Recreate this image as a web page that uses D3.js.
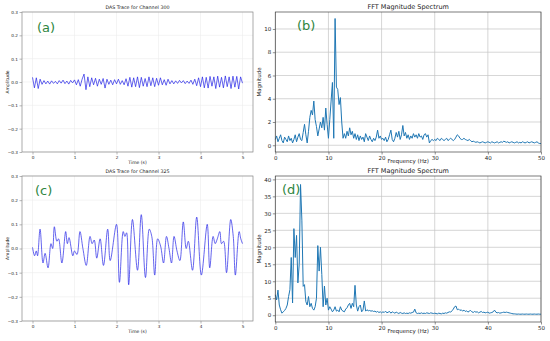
<!DOCTYPE html>
<html>
<head>
<meta charset="utf-8">
<script src="https://cdn.jsdelivr.net/npm/d3@7"></script>
<style>
body{margin:0;background:#fff}
svg{display:block;font-family:"DejaVu Sans",sans-serif}
</style>
</head>
<body>
<div class="chart"></div>
<script>
// time traces, sampled every 5/110 s (channel 300)
const traceStep300=5/110
const trace300=[
0.02,-0.025,0.018,-0.028,0.012,-0.01,0.006,-0.008,0.004,-0.009,
0.005,-0.006,0.003,-0.008,0.006,-0.005,0.008,-0.007,0.004,-0.009,
0.007,-0.004,0.009,-0.012,0.01,-0.018,0.012,0.034,-0.033,0.022,
-0.02,0.018,-0.012,0.016,-0.018,0.012,-0.01,0.015,-0.026,0.012,
-0.01,0.008,-0.012,0.01,-0.008,0.012,-0.01,0.006,-0.012,0.014,
-0.018,0.02,-0.022,0.018,-0.02,0.022,-0.024,0.02,-0.018,0.015,
-0.02,0.022,-0.016,0.018,-0.02,0.016,-0.014,0.018,-0.012,0.01,
-0.014,0.012,-0.008,0.006,-0.008,0.005,-0.006,0.007,-0.004,0.006,
-0.007,0.004,-0.006,0.008,-0.01,0.012,-0.016,0.018,-0.02,0.022,
-0.025,0.02,-0.026,0.024,-0.018,0.022,-0.028,0.025,-0.022,0.02,
-0.025,0.026,-0.02,0.022,-0.028,0.025,-0.022,0.024,-0.03,0.022,
-0.005]

// channel 325 trace, turning points (time s, amplitude)
const time325=[0,0.05,0.09,0.12,0.18,0.25,0.30,0.37,0.44,0.48,0.52,0.58,0.62,0.70,0.79,0.83,0.87,0.96,1.00,1.06,
1.13,1.20,1.28,1.37,1.42,1.47,1.53,1.61,1.69,1.79,1.85,2.00,2.07,2.16,2.20,2.24,2.29,2.38,2.50,2.59,
2.69,2.78,2.84,2.91,2.98,3.05,3.12,3.19,3.25,3.31,3.37,3.44,3.51,3.59,3.66,3.71,3.81,3.91,4.02,4.16,
4.22,4.30,4.35,4.40,4.46,4.50,4.55,4.62,4.72,4.78,4.83,4.92,4.96,5.0]
const trace325=[0.005,-0.03,-0.01,-0.03,0.08,-0.06,-0.02,-0.08,0.02,0.0,0.09,0.03,0.04,-0.06,0.07,0.02,0.045,-0.03,-0.01,-0.025,
0.07,0.0,-0.07,0.05,0.02,0.035,-0.04,0.04,-0.07,0.08,-0.05,0.10,-0.14,0.07,0.05,0.065,-0.15,0.12,-0.09,0.14,
-0.12,0.08,0.05,-0.11,0.04,0.01,-0.06,0.05,0.0,-0.06,0.05,-0.01,-0.05,0.11,0.0,0.03,-0.09,0.13,-0.11,0.10,
-0.08,0.05,0.02,0.04,0.07,0.02,0.03,-0.10,0.12,0.05,-0.11,0.07,0.04,0.02]

// FFT magnitudes, every 0.25 Hz from 0 to 50 Hz
const fftStep=0.25
const fft300=[
0.5,0.8,0.3,0.6,0.9,0.4,0.2,0.7,0.5,0.3,0.8,0.4,0.6,0.2,0.5,0.9,0.3,0.7,1.0,0.5,
0.4,1.1,1.8,0.9,0.2,1.2,2.4,3.0,2.6,3.8,2.2,1.6,0.8,1.4,2.0,1.5,2.4,1.3,3.2,1.8,
0.6,2.2,3.8,5.4,0.6,10.9,5.0,4.8,3.5,4.1,2.0,0.6,1.0,0.6,1.2,0.8,1.5,0.9,1.2,0.6,
1.0,0.5,0.9,0.4,0.8,0.5,0.7,0.3,1.0,0.7,0.4,0.8,0.5,0.3,0.6,0.4,0.7,1.3,0.6,0.8,
0.5,0.6,0.4,0.7,0.3,0.5,0.9,1.3,0.5,0.3,0.6,1.1,0.7,1.2,0.5,0.9,1.7,0.8,1.1,0.6,
0.9,0.5,0.8,0.6,1.0,0.7,0.9,0.6,1.0,0.7,0.8,0.5,0.9,1.0,0.7,0.9,0.2,0.4,0.5,0.4,
0.5,0.4,0.6,0.5,0.4,0.6,0.5,0.4,0.5,0.6,0.4,0.5,0.6,0.5,0.4,0.5,0.7,0.9,0.8,0.6,
0.5,0.5,0.6,0.5,0.45,0.4,0.5,0.4,0.3,0.35,0.3,0.25,0.3,0.25,0.2,0.25,0.3,0.25,0.2,0.25,
0.3,0.25,0.2,0.3,0.25,0.2,0.25,0.3,0.2,0.25,0.3,0.25,0.35,0.3,0.25,0.3,0.2,0.25,0.3,0.25,
0.2,0.25,0.3,0.2,0.25,0.2,0.3,0.25,0.2,0.25,0.3,0.2,0.25,0.3,0.25,0.2,0.25,0.3,0.2,0.15,
0.15]
const fft325=[
6.0,4.5,7.4,3.0,1.6,0.6,1.0,1.4,2.0,3.0,5.5,7.5,17.0,3.6,25.5,17.0,23.5,9.5,15.0,38.5,
28.0,8.5,9.0,4.0,3.0,5.5,2.5,3.5,2.0,1.5,2.5,5.0,20.5,13.0,20.0,12.0,2.5,8.6,3.0,5.0,
1.5,2.5,1.8,1.0,1.5,2.5,1.2,1.5,1.0,2.5,1.5,1.2,1.0,1.8,2.2,3.0,3.5,2.0,3.5,2.5,
8.8,3.0,1.2,2.5,3.0,1.0,1.5,4.2,1.2,1.6,1.3,1.4,1.2,1.3,1.1,1.2,0.9,1.1,0.8,1.0,
0.7,1.0,0.8,1.2,0.7,0.9,1.1,0.6,1.0,0.8,0.6,0.9,0.7,0.5,0.8,0.6,0.5,0.7,0.5,0.6,
0.5,0.7,0.6,0.8,0.9,1.8,0.7,0.5,0.6,0.5,0.7,0.5,0.6,0.5,0.7,0.6,0.5,0.7,0.6,0.5,
0.6,0.5,0.4,0.6,0.5,0.4,0.6,0.5,0.7,0.6,0.8,1.0,0.9,1.3,1.8,2.5,2.7,1.6,1.8,1.4,
1.6,1.2,1.5,1.1,1.3,0.9,1.2,1.4,1.0,0.8,1.1,0.9,1.0,0.7,0.9,1.1,0.8,0.9,0.7,0.8,
0.9,0.6,0.7,0.8,1.0,1.5,0.9,0.7,0.8,0.6,0.7,0.8,0.9,0.8,0.9,0.8,0.7,0.6,0.5,0.4,
0.4,0.35,0.3,0.35,0.3,0.3,0.35,0.3,0.3,0.35,0.3,0.3,0.35,0.3,0.3,0.35,0.3,0.3,0.35,0.3,
0.3]

const ampTicks=[-0.3,-0.2,-0.1,0,0.1,0.2,0.3]
const timeTicks=[0,1,2,3,4,5]
const freqTicks=[0,10,20,30,40,50]
const mag300Ticks=[0,2,4,6,8,10]
const mag325Ticks=[0,5,10,15,20,25,30,35,40]

const svg=d3.select('.chart').append('svg')
	.attr('width',550)
	.attr('height',341)

const fmtAmp=d=>d3.format('.1f')(d).replace('-','\u2212')

function panel(o){
	let g=svg.append('g')
	let x=d3.scaleLinear().domain(o.xDomain).range([o.left,o.right])
	let y=d3.scaleLinear().domain(o.yDomain).range([o.bottom,o.top])

	// grid
	g.selectAll('.vgrid').data(o.xTicks).enter().append('line')
		.attr('x1',d=>x(d)).attr('x2',d=>x(d))
		.attr('y1',o.top).attr('y2',o.bottom)
		.attr('stroke',o.gridColor).attr('stroke-width',o.gridWidth)
	g.selectAll('.hgrid').data(o.yTicks).enter().append('line')
		.attr('y1',d=>y(d)).attr('y2',d=>y(d))
		.attr('x1',o.left).attr('x2',o.right)
		.attr('stroke',o.gridColor).attr('stroke-width',o.gridWidth)

	g.append('path')
		.datum(o.data)
		.attr('fill','none')
		.attr('stroke',o.lineColor)
		.attr('stroke-width',o.lineWidth)
		.attr('d',d3.line().x(d=>x(d[0])).y(d=>y(d[1])).curve(o.curve||d3.curveLinear))

	let xAxis=d3.axisBottom(x).tickValues(o.xTicks).tickSize(2.5).tickPadding(1.5).tickFormat(o.xFormat)
	let yAxis=d3.axisLeft(y).tickValues(o.yTicks).tickSize(2.5).tickPadding(1.5).tickFormat(o.yFormat)
	let gx=g.append('g').attr('transform',`translate(0,${o.bottom})`).call(xAxis)
	let gy=g.append('g').attr('transform',`translate(${o.left},0)`).call(yAxis)
	;[gx,gy].forEach(a=>{
		a.select('.domain').remove()
		a.selectAll('line').attr('stroke',o.frameColor).attr('stroke-width',0.6)
		a.selectAll('text').attr('font-size',o.tickSize).attr('fill','#222').attr('font-family','"DejaVu Sans",sans-serif')
	})

	g.append('rect')
		.attr('x',o.left).attr('y',o.top)
		.attr('width',o.right-o.left).attr('height',o.bottom-o.top)
		.attr('fill','none').attr('stroke',o.frameColor).attr('stroke-width',0.7)

	g.append('text')
		.attr('x',(o.left+o.right)/2).attr('y',o.top-3)
		.attr('text-anchor','middle')
		.attr('font-size',o.titleSize).attr('fill','#222')
		.text(o.title)
	g.append('text')
		.attr('x',(o.left+o.right)/2).attr('y',o.bottom+o.xLabelGap)
		.attr('text-anchor','middle')
		.attr('font-size',o.labelSize).attr('fill','#222')
		.text(o.xLabel)
	g.append('text')
		.attr('transform',`translate(${o.left-o.yLabelGap},${(o.top+o.bottom)/2}) rotate(-90)`)
		.attr('text-anchor','middle')
		.attr('font-size',o.labelSize).attr('fill','#222')
		.text(o.yLabel)
	g.append('text')
		.attr('x',o.tagX).attr('y',o.tagY)
		.attr('font-size',13).attr('fill','#2e8540')
		.attr('font-family','"DejaVu Sans",sans-serif')
		.text(o.tag)
}

const left={xDomain:[-0.25,5.25],left:22,right:253,yDomain:[-0.3,0.3],
	xTicks:timeTicks,yTicks:ampTicks,xFormat:d3.format('d'),yFormat:fmtAmp,
	gridColor:'#ececec',gridWidth:0.6,frameColor:'#888',lineColor:'#2323e6',lineWidth:0.7,
	tickSize:4.2,titleSize:4.8,labelSize:4.5,xLabelGap:12,yLabelGap:13,
	xLabel:'Time (s)',yLabel:'Amplitude'}
const right={xDomain:[0,50],left:275.3,right:541,
	xTicks:freqTicks,xFormat:d3.format('d'),yFormat:d3.format('d'),
	gridColor:'#c4c4c4',gridWidth:0.7,frameColor:'#444',lineColor:'#1f77b4',lineWidth:1,
	tickSize:5.5,titleSize:6.5,labelSize:5.5,xLabelGap:11,yLabelGap:14,
	xLabel:'Frequency (Hz)',yLabel:'Magnitude',title:'FFT Magnitude Spectrum'}

panel(Object.assign({},left,{top:12,bottom:152,title:'DAS Trace for Channel 300',
	data:trace300.map((v,i)=>[i*traceStep300,v]),tag:'(a)',tagX:37,tagY:32}))
panel(Object.assign({},right,{top:12,bottom:152,yDomain:[-0.58,11.46],yTicks:mag300Ticks,
	data:fft300.map((v,i)=>[i*fftStep,v]),tag:'(b)',tagX:297,tagY:30}))
panel(Object.assign({},left,{top:176,bottom:321,title:'DAS Trace for Channel 325',
	data:trace325.map((v,i)=>[time325[i],v]),curve:d3.curveCatmullRom,tag:'(c)',tagX:35,tagY:195}))
panel(Object.assign({},right,{top:176,bottom:322,yDomain:[-2,41],yTicks:mag325Ticks,
	data:fft325.map((v,i)=>[i*fftStep,v]),tag:'(d)',tagX:282,tagY:194}))
</script>
</body>
</html>
